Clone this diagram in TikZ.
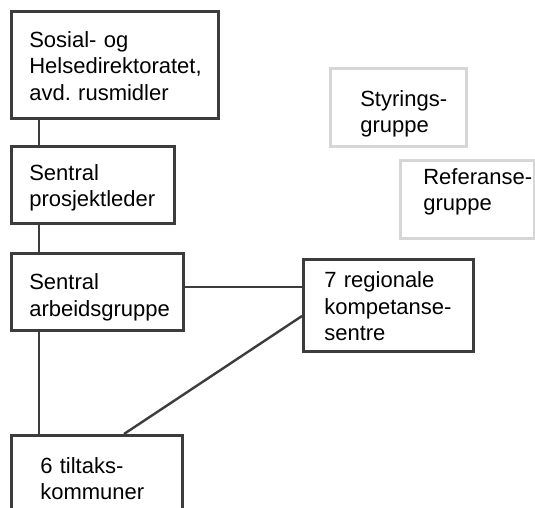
\documentclass[tikz,border=0pt]{standalone}
\usepackage{fontspec}
\setmainfont{Liberation Sans}
\frenchspacing
\definecolor{boxline}{HTML}{3C3C3C}
\definecolor{softline}{HTML}{D6D6D6}
\newcommand{\orgfont}{\fontsize{22}{26.5}\selectfont\hyphenpenalty10000 \exhyphenpenalty10000 }
\tikzset{
  orgbox/.style={draw=boxline,line width=2.6pt,anchor=north west,align=left,
    inner ysep=0pt,font=\orgfont},
  sidebox/.style={orgbox,draw=softline},
  link/.style={draw=boxline,line width=2.4pt}
}
\begin{document}
\begin{tikzpicture}[x=1pt,y=-1pt]
\useasboundingbox (0,0) rectangle (535,508);
% hovedlinje
\node[orgbox,inner xsep=18pt,text width=171pt,minimum height=107pt,text height=18pt] (dir) at (10,10)
  {Sosial- og\\Helsedirektoratet,\\avd. rusmidler};
\node[orgbox,inner xsep=18pt,text width=127pt,minimum height=77pt,text height=22pt] (leder) at (10,145)
  {Sentral\\prosjektleder};
\node[orgbox,inner xsep=18pt,text width=136pt,minimum height=77pt,text height=27pt] (arb) at (10,252)
  {Sentral\\arbeidsgruppe};
\node[orgbox,inner xsep=21pt,text width=128pt,minimum height=92pt,text height=18pt] (komp) at (302,258)
  {7 regionale\\kompetanse-\\sentre};
\node[orgbox,inner xsep=29pt,text width=113pt,minimum height=77pt,text height=25.5pt] (kom) at (10,434)
  {6 tiltaks-\\kommuner};
% grupper
\node[sidebox,inner xsep=30pt,text width=76pt,minimum height=78pt,text height=28.5pt] (styr) at (329,67)
  {Styrings-\\gruppe};
\node[sidebox,inner xsep=23pt,text width=88pt,minimum height=78pt,text height=16pt,text depth=46.5pt] (ref) at (399,159)
  {Referanse-\\gruppe};
% linjer
\draw[link]([xshift=29pt]dir.south west)--([xshift=29pt]leder.north west);
\draw[link]([xshift=29pt]leder.south west)--([xshift=29pt]arb.north west);
\draw[link]([xshift=29pt]arb.south west)--([xshift=29pt]kom.north west);
\draw[link]([yshift=-35pt]arb.north east)--([yshift=-35pt]arb.north east-|komp.west);
\draw[link]([yshift=-58pt]komp.north west)--([xshift=114pt]kom.north west);
\end{tikzpicture}
\end{document}
